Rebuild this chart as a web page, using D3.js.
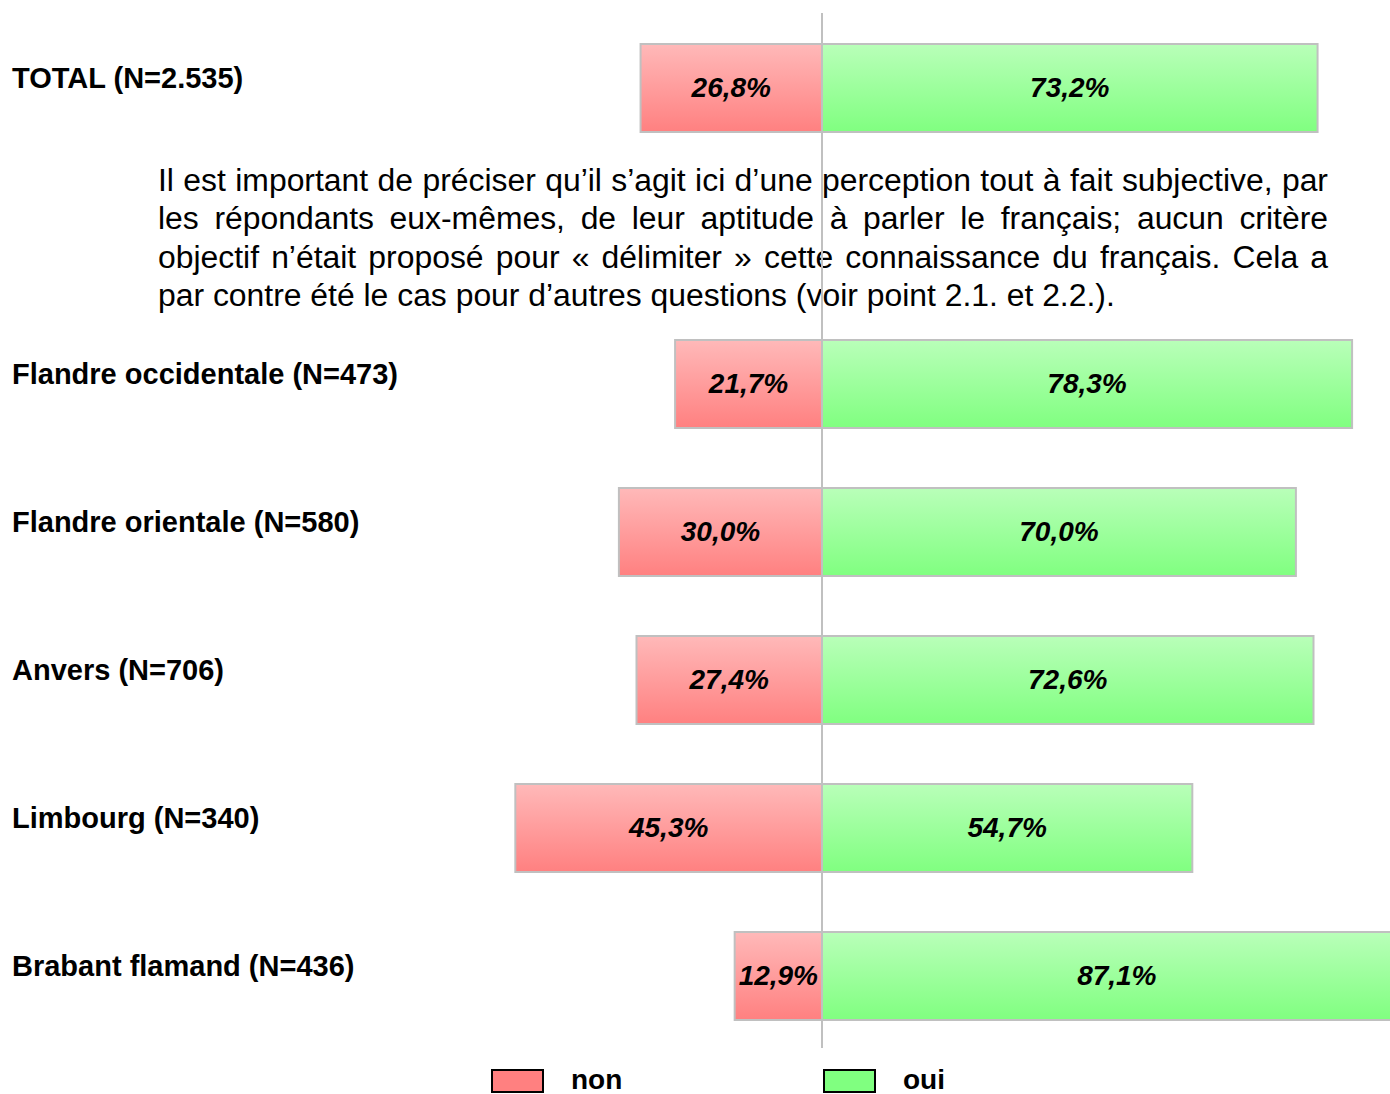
<!DOCTYPE html>
<html>
<head>
<meta charset="utf-8">
<script src="https://cdn.jsdelivr.net/npm/d3@7"></script>
<style>
  html, body { margin: 0; padding: 0; background: #ffffff; }
  svg { display: block; }
</style>
</head>
<body>
<svg id="chart" width="1390" height="1094"></svg>
<script>
// ---- data ----
const categories = ["TOTAL (N=2.535)", "Flandre occidentale (N=473)", "Flandre orientale (N=580)", "Anvers (N=706)", "Limbourg (N=340)", "Brabant flamand (N=436)"];
const slots = ["TOTAL (N=2.535)", "__note__", "Flandre occidentale (N=473)", "Flandre orientale (N=580)", "Anvers (N=706)", "Limbourg (N=340)", "Brabant flamand (N=436)"];
const nonValues = [26.8, 21.7, 30.0, 27.4, 45.3, 12.9];
const ouiValues = [73.2, 78.3, 70.0, 72.6, 54.7, 87.1];
const seriesNames = ["non", "oui"];
const noteLines = [
  "Il est important de préciser qu’il s’agit ici d’une perception tout à fait subjective, par",
  "les répondants eux-mêmes, de leur aptitude à parler le français; aucun critère",
  "objectif n’était proposé pour « délimiter » cette connaissance du français. Cela a",
  "par contre été le cas pour d’autres questions (voir point 2.1. et 2.2.)."
];
const fmt = v => v.toFixed(1).replace(".", ",") + "%";

// ---- layout ----
const svg = d3.select("#chart");
const cx = 822, pxPer100 = 677;
const x = d3.scaleLinear().domain([-100, 100]).range([cx - pxPer100, cx + pxPer100]);
const y = d3.scaleBand().domain(slots).range([14, 14 + 148 * 7])
  .paddingInner(60 / 148).paddingOuter(30 / 148);
const bw = y.bandwidth();

const defs = svg.append("defs");
function grad(id, top, bottom) {
  const g = defs.append("linearGradient").attr("id", id)
    .attr("x1", 0).attr("y1", 0).attr("x2", 0).attr("y2", 1);
  g.append("stop").attr("offset", "0%").attr("stop-color", top);
  g.append("stop").attr("offset", "100%").attr("stop-color", bottom);
}
grad("gNon", "#ffb9b9", "#ff8080");
grad("gOui", "#b9ffb9", "#80ff80");

const rows = categories.map((c, i) => ({ cat: c, non: nonValues[i], oui: ouiValues[i] }));

// category labels
svg.append("g").selectAll("text").data(rows).join("text")
  .attr("x", 12)
  .attr("y", d => y(d.cat) + bw / 2)
  .attr("font-family", "'Liberation Sans', Arial, sans-serif")
  .attr("font-weight", "bold")
  .attr("font-size", 29)
  .attr("fill", "#000")
  .text(d => d.cat);

// bars
const barG = svg.append("g");
barG.selectAll("rect.non").data(rows).join("rect").attr("class", "non")
  .attr("x", d => x(-d.non)).attr("y", d => y(d.cat))
  .attr("width", d => x(0) - x(-d.non)).attr("height", bw)
  .attr("fill", "url(#gNon)").attr("stroke", "#c0c0c0").attr("stroke-width", 2);
barG.selectAll("rect.oui").data(rows).join("rect").attr("class", "oui")
  .attr("x", x(0)).attr("y", d => y(d.cat))
  .attr("width", d => x(d.oui) - x(0)).attr("height", bw)
  .attr("fill", "url(#gOui)").attr("stroke", "#c0c0c0").attr("stroke-width", 2);

// value labels
const lblFont = "'Liberation Sans', Arial, sans-serif";
barG.selectAll("text.vn").data(rows).join("text").attr("class", "vn")
  .attr("x", d => (x(-d.non) + x(0)) / 2).attr("y", d => y(d.cat) + bw / 2 + 8.5)
  .attr("text-anchor", "middle").attr("font-family", lblFont)
  .attr("font-weight", "bold").attr("font-style", "italic").attr("font-size", 28)
  .text(d => fmt(d.non));
barG.selectAll("text.vo").data(rows).join("text").attr("class", "vo")
  .attr("x", d => (x(0) + x(d.oui)) / 2).attr("y", d => y(d.cat) + bw / 2 + 8.5)
  .attr("text-anchor", "middle").attr("font-family", lblFont)
  .attr("font-weight", "bold").attr("font-style", "italic").attr("font-size", 28)
  .text(d => fmt(d.oui));

// note paragraph (justified)
const noteLeft = 158, noteRight = 1328, noteTop = 191, noteLead = 38.4;
const noteG = svg.append("g");
const probe = noteG.append("text").attr("font-family", "'Liberation Sans', Arial, sans-serif")
  .attr("font-size", 29).text(noteLines[3]);
const natural = probe.node().getComputedTextLength();
const noteFs = 29 * 957 / natural;
probe.remove();
noteLines.forEach((line, i) => {
  const t = noteG.append("text")
    .attr("x", noteLeft).attr("y", noteTop + i * noteLead)
    .attr("font-family", "'Liberation Sans', Arial, sans-serif")
    .attr("font-size", noteFs).attr("fill", "#000")
    .text(line);
  if (i < noteLines.length - 1) {
    const w = t.node().getComputedTextLength();
    const spaces = (line.match(/ /g) || []).length;
    t.attr("word-spacing", ((noteRight - noteLeft) - w) / spaces);
  }
});

// central axis line
svg.append("line")
  .attr("x1", x(0)).attr("x2", x(0)).attr("y1", 13).attr("y2", 1048)
  .attr("stroke", "#c0c0c0").attr("stroke-width", 2);

// legend
const legend = svg.append("g");
const legX = [492, 824];
const legFill = ["#ff8080", "#80ff80"];
seriesNames.forEach((s, i) => {
  legend.append("rect").attr("x", legX[i]).attr("y", 1070).attr("width", 51).attr("height", 22)
    .attr("fill", legFill[i]).attr("stroke", "#000").attr("stroke-width", 2);
  legend.append("text").attr("x", legX[i] + 79).attr("y", 1089)
    .attr("font-family", "'Liberation Sans', Arial, sans-serif")
    .attr("font-weight", "bold").attr("font-size", 28).text(s);
});
</script>
</body>
</html>
